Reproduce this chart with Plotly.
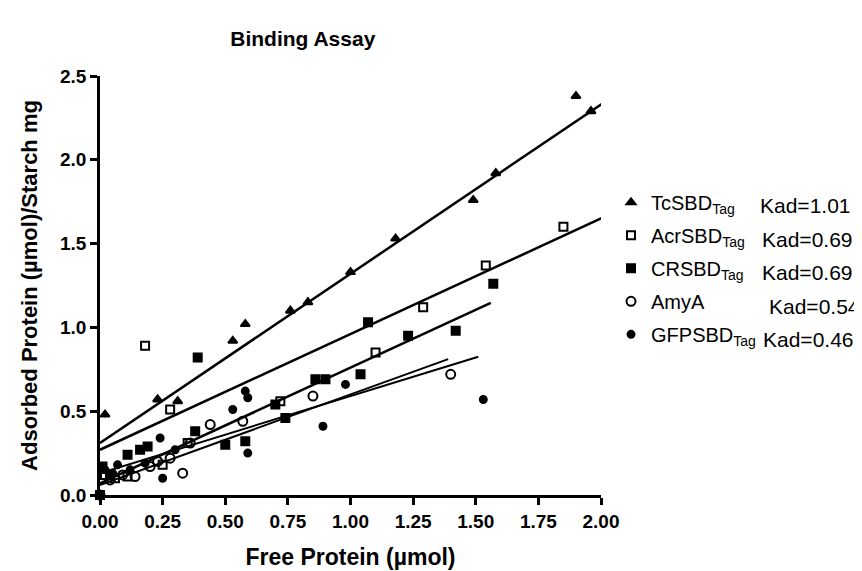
import plotly.graph_objects as go

# TcSBD_Tag (filled triangles)
tc_x = [0.00, 0.02, 0.23, 0.31, 0.53, 0.58, 0.76, 0.83, 1.00, 1.18, 1.49, 1.58, 1.90, 1.96]
tc_y = [0.00, 0.48, 0.57, 0.56, 0.92, 1.02, 1.10, 1.15, 1.33, 1.53, 1.76, 1.92, 2.38, 2.29]

# AcrSBD_Tag (open squares)
acr_x = [0.00, 0.02, 0.06, 0.11, 0.18, 0.25, 0.28, 0.35, 0.72, 1.10, 1.29, 1.54, 1.85]
acr_y = [0.00, 0.12, 0.10, 0.11, 0.89, 0.18, 0.51, 0.31, 0.56, 0.85, 1.12, 1.37, 1.60]

# CRSBD_Tag (filled squares)
cr_x = [0.00, 0.01, 0.04, 0.11, 0.16, 0.19, 0.38, 0.39, 0.50, 0.58, 0.70, 0.74, 0.86, 0.90, 1.04, 1.07, 1.23, 1.42, 1.57]
cr_y = [0.00, 0.17, 0.12, 0.24, 0.27, 0.29, 0.38, 0.82, 0.30, 0.32, 0.54, 0.46, 0.69, 0.69, 0.72, 1.03, 0.95, 0.98, 1.26]

# AmyA (open circles)
amy_x = [0.00, 0.04, 0.09, 0.14, 0.20, 0.23, 0.28, 0.33, 0.36, 0.44, 0.57, 0.85, 1.40]
amy_y = [0.00, 0.09, 0.12, 0.11, 0.17, 0.20, 0.22, 0.13, 0.31, 0.42, 0.44, 0.59, 0.72]

# GFPSBD_Tag (filled circles)
gfp_x = [0.00, 0.02, 0.05, 0.07, 0.12, 0.18, 0.24, 0.25, 0.30, 0.53, 0.58, 0.59, 0.59, 0.89, 0.98, 1.53]
gfp_y = [0.00, 0.15, 0.13, 0.18, 0.15, 0.19, 0.34, 0.10, 0.27, 0.51, 0.62, 0.58, 0.25, 0.41, 0.66, 0.57]

# linear fits
fit_slope = [1.01, 0.69, 0.69, 0.54, 0.46]
fit_icept = [0.31, 0.27, 0.07, 0.06, 0.13]
fit_xmax = [2.02, 2.02, 1.56, 1.39, 1.51]

names = ["TcSBD<sub>Tag</sub>", "AcrSBD<sub>Tag</sub>", "CRSBD<sub>Tag</sub>",
         "AmyA", "GFPSBD<sub>Tag</sub>"]
kad_text = ["Kad=1.01", "Kad=0.69", "Kad=0.69", "Kad=0.54", "Kad=0.46"]
symbols = ["triangle-up", "square-open", "square", "circle-open", "circle"]
sizes = [8, 8, 8, 9, 7]
xs = [tc_x, acr_x, cr_x, amy_x, gfp_x]
ys = [tc_y, acr_y, cr_y, amy_y, gfp_y]

fig = go.Figure()

for i in range(5):
    fig.add_trace(go.Scatter(
        x=xs[i], y=ys[i], mode='markers', name=names[i],
        legendgroup=str(i),
        marker=dict(symbol=symbols[i], size=sizes[i], color='black',
                    line=dict(color='black', width=2)),
        cliponaxis=False))

for i in range(5):
    x0, x1 = 0, fit_xmax[i]
    fig.add_trace(go.Scatter(
        x=[x0, x1],
        y=[fit_icept[i] + fit_slope[i] * x0, fit_icept[i] + fit_slope[i] * x1],
        mode='lines', line=dict(color='black', width=2.5 if i < 3 else 2),
        showlegend=False, cliponaxis=False))

fam = 'Liberation Sans, Arial, sans-serif'
tick_font = dict(family=fam, size=19, color='black', weight='bold')
ytitle_font = dict(family=fam, size=22, color='black', weight='bold')
xtitle_font = dict(family=fam, size=23, color='black', weight='bold')

# Kad values next to the legend rows
kad_x = [1.313, 1.317, 1.317, 1.331, 1.319]
kad_y = [0.692, 0.609, 0.532, 0.451, 0.370]
for i in range(5):
    fig.add_annotation(x=kad_x[i], y=kad_y[i], xref='paper', yref='paper',
                       text=kad_text[i], showarrow=False, xanchor='left', yanchor='middle',
                       font=dict(family=fam, size=21, color='black'))

fig.update_layout(
    width=862, height=571,
    paper_bgcolor='white', plot_bgcolor='white',
    margin=dict(l=92, r=269, t=68, b=84),
    title=dict(text='Binding Assay', x=0.342, xanchor='center', y=0.947, yanchor='middle',
               font=dict(family=fam, size=21, color='black', weight='bold')),
    legend=dict(x=1.02, xanchor='left', y=0.745, yanchor='top', tracegroupgap=4,
                font=dict(family=fam, size=20, color='black'),
                bgcolor='rgba(0,0,0,0)'),
    showlegend=True,
)

fig.update_xaxes(range=[0, 2.0], tickvals=[0, 0.25, 0.5, 0.75, 1.0, 1.25, 1.5, 1.75, 2.0],
                 ticktext=['0.00', '0.25', '0.50', '0.75', '1.00', '1.25', '1.50', '1.75', '2.00'],
                 showgrid=False, zeroline=False, showline=True, linecolor='black', linewidth=2.5,
                 ticks='outside', ticklen=7, tickwidth=2.5, tickcolor='black', tickfont=tick_font,
                 automargin=False,
                 title=dict(text='Free Protein (µmol)', font=xtitle_font, standoff=19))
fig.update_yaxes(range=[0, 2.5], tickvals=[0, 0.5, 1.0, 1.5, 2.0, 2.5],
                 ticktext=['0.0', '0.5', '1.0', '1.5', '2.0', '2.5'],
                 showgrid=False, zeroline=False, showline=True, linecolor='black', linewidth=2.5,
                 ticks='outside', ticklen=7, tickwidth=2.5, tickcolor='black', tickfont=tick_font,
                 automargin=False,
                 title=dict(text='Adsorbed Protein (µmol)/Starch mg', font=ytitle_font, standoff=17))

fig.write_html('out.html')
